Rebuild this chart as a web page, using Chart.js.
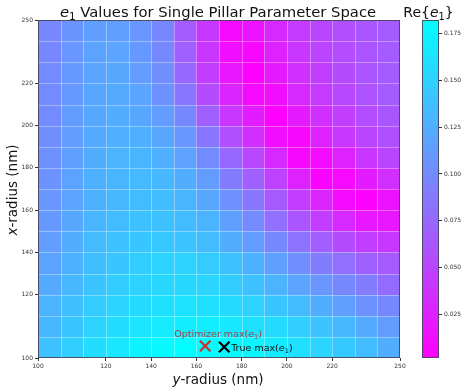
<!DOCTYPE html>
<html>
<head>
<meta charset="utf-8">
<script src="https://cdn.jsdelivr.net/npm/chart.js@4"></script>
<style>
  html, body { margin: 0; padding: 0; background: #fff; }
  #wrap { position: relative; width: 468px; height: 392px; }
  #wrap canvas { position: absolute; left: 0; top: 0; }
</style>
</head>
<body>
<div id="wrap">
  <canvas id="heat" width="468" height="392"></canvas>
  <canvas id="cbar" width="468" height="392"></canvas>
</div>
<script>
// 16 x 16 grid of Re{e1}; first row is the top of the picture (x-radius 250),
// columns go left to right (y-radius 100 -> 250)
const e1Grid = [
  [0.098, 0.107, 0.114, 0.115, 0.108, 0.097, 0.066, 0.041, 0.009, 0.015, 0.030, 0.044, 0.050, 0.057, 0.062, 0.066],
  [0.098, 0.108, 0.117, 0.118, 0.110, 0.098, 0.070, 0.040, 0.012, 0.006, 0.025, 0.040, 0.050, 0.056, 0.062, 0.066],
  [0.100, 0.110, 0.118, 0.120, 0.113, 0.102, 0.075, 0.045, 0.018, 0.003, 0.020, 0.036, 0.046, 0.055, 0.062, 0.067],
  [0.100, 0.110, 0.120, 0.122, 0.118, 0.105, 0.085, 0.055, 0.028, 0.010, 0.012, 0.030, 0.042, 0.052, 0.060, 0.066],
  [0.100, 0.112, 0.120, 0.124, 0.120, 0.112, 0.098, 0.070, 0.040, 0.022, 0.003, 0.020, 0.035, 0.046, 0.056, 0.063],
  [0.102, 0.113, 0.122, 0.126, 0.126, 0.120, 0.108, 0.085, 0.058, 0.035, 0.012, 0.007, 0.025, 0.040, 0.050, 0.058],
  [0.104, 0.115, 0.124, 0.128, 0.130, 0.126, 0.116, 0.100, 0.075, 0.052, 0.030, 0.007, 0.010, 0.025, 0.040, 0.050],
  [0.106, 0.117, 0.126, 0.130, 0.133, 0.132, 0.124, 0.112, 0.090, 0.070, 0.048, 0.025, 0.005, 0.008, 0.022, 0.035],
  [0.108, 0.118, 0.127, 0.132, 0.135, 0.136, 0.130, 0.120, 0.105, 0.085, 0.065, 0.045, 0.028, 0.010, 0.003, 0.015],
  [0.110, 0.120, 0.130, 0.135, 0.138, 0.138, 0.135, 0.128, 0.115, 0.100, 0.080, 0.062, 0.045, 0.030, 0.018, 0.018],
  [0.113, 0.124, 0.133, 0.139, 0.142, 0.143, 0.140, 0.135, 0.125, 0.112, 0.098, 0.083, 0.068, 0.055, 0.045, 0.040],
  [0.117, 0.127, 0.136, 0.142, 0.147, 0.150, 0.150, 0.145, 0.138, 0.127, 0.115, 0.102, 0.090, 0.080, 0.070, 0.065],
  [0.122, 0.132, 0.140, 0.146, 0.150, 0.154, 0.154, 0.152, 0.146, 0.138, 0.128, 0.118, 0.108, 0.098, 0.090, 0.078],
  [0.128, 0.137, 0.145, 0.152, 0.156, 0.160, 0.162, 0.160, 0.156, 0.150, 0.142, 0.134, 0.125, 0.115, 0.105, 0.098],
  [0.132, 0.142, 0.150, 0.158, 0.163, 0.167, 0.169, 0.169, 0.166, 0.161, 0.155, 0.148, 0.140, 0.132, 0.122, 0.112],
  [0.138, 0.148, 0.158, 0.165, 0.172, 0.177, 0.180, 0.180, 0.178, 0.174, 0.168, 0.160, 0.152, 0.144, 0.135, 0.125]
];

// tick labels (nm) and the cell edge they sit on
const tickCells = [0, 3, 5, 7, 9, 11, 13, 16];
const tickLabels = [100, 120, 140, 160, 180, 200, 220, 250];

// colour bar
const vMin = 0.002, vMax = 0.182;
const cbarTicks = [0.025, 0.05, 0.075, 0.1, 0.125, 0.15, 0.175];

// maxima markers, in cell units
const optimizerMax = [{ x: 7.39, y: 0.57 }];
const trueMax = [{ x: 8.23, y: 0.52 }];

const N = e1Grid.length;
const FONT = "'DejaVu Sans', sans-serif";

function coolColor(v) {
  let s = (v - vMin) / (vMax - vMin);
  s = Math.max(0, Math.min(1, s));
  return `rgb(${Math.round(255 * (1 - s))}, ${Math.round(255 * s)}, 255)`;
}

// draw text with italic / subscript pieces
function richText(ctx, parts, x, y, size, color, align) {
  const fontFor = p => `${p.it ? 'italic ' : ''}${p.sub ? size * 0.7 : size}px ${FONT}`;
  let total = 0;
  parts.forEach(p => { ctx.font = fontFor(p); total += ctx.measureText(p.t).width; });
  let cx = align === 'left' ? x : x - total / 2;
  ctx.fillStyle = color;
  ctx.textAlign = 'left';
  ctx.textBaseline = 'alphabetic';
  parts.forEach(p => {
    ctx.font = fontFor(p);
    ctx.fillText(p.t, cx, y + (p.sub ? size * 0.22 : 0));
    cx += ctx.measureText(p.t).width;
  });
}

const heatmapPlugin = {
  id: 'heatmap',
  beforeDatasetsDraw(chart) {
    const { ctx, chartArea: a, scales: { x, y } } = chart;
    ctx.save();
    e1Grid.forEach((row, r) => {
      const yi = N - 1 - r;
      row.forEach((v, c) => {
        const x0 = Math.round(x.getPixelForValue(c)), x1 = Math.round(x.getPixelForValue(c + 1));
        const y0 = Math.round(y.getPixelForValue(yi + 1)), y1 = Math.round(y.getPixelForValue(yi));
        ctx.fillStyle = coolColor(v);
        ctx.fillRect(x0, y0, x1 - x0, y1 - y0);
      });
    });
    // light cell edges
    ctx.strokeStyle = 'rgba(255,255,255,0.35)';
    ctx.lineWidth = 1;
    ctx.beginPath();
    for (let i = 1; i < N; i++) {
      const px = Math.round(x.getPixelForValue(i)) + 0.5;
      const py = Math.round(y.getPixelForValue(i)) + 0.5;
      ctx.moveTo(px, a.top); ctx.lineTo(px, a.bottom);
      ctx.moveTo(a.left, py); ctx.lineTo(a.right, py);
    }
    ctx.stroke();
    ctx.strokeStyle = 'rgba(70,70,90,0.9)';
    ctx.strokeRect(Math.round(a.left) + 0.5, Math.round(a.top) + 0.5, Math.round(a.right - a.left) - 1, Math.round(a.bottom - a.top) - 1);
    ctx.restore();
  },
  afterDraw(chart) {
    const { ctx } = chart;
    ctx.save();
    richText(ctx, [{ t: 'e', it: true }, { t: '1', sub: true }, { t: ' Values for Single Pillar Parameter Space' }], 218, 17, 14.8, '#111');
    richText(ctx, [{ t: 'y', it: true }, { t: '-radius (nm)' }], 218, 384, 13.5, '#111');
    ctx.translate(17, 190);
    ctx.rotate(-Math.PI / 2);
    richText(ctx, [{ t: 'x', it: true }, { t: '-radius (nm)' }], 0, 0, 13.5, '#111');
    ctx.restore();

    // marker labels
    ctx.save();
    const o = chart.getDatasetMeta(0).data[0];
    const t = chart.getDatasetMeta(1).data[0];
    richText(ctx, [{ t: 'Optimizer max(' }, { t: 'e', it: true }, { t: '1', sub: true }, { t: ')' }], o.x + 13, o.y - 9, 9.5, '#a04545');
    richText(ctx, [{ t: 'True max(' }, { t: 'e', it: true }, { t: '1', sub: true }, { t: ')' }], t.x + 7, t.y + 4, 9.5, '#111', 'left');
    ctx.restore();
  }
};

const cellTicks = scale => { scale.ticks = tickCells.map(v => ({ value: v })); };
const cellLabel = v => { const i = tickCells.indexOf(v); return i >= 0 ? String(tickLabels[i]) : ''; };

new Chart(document.getElementById('heat'), {
  type: 'scatter',
  data: {
    datasets: [
      {
        label: 'Optimizer max',
        data: optimizerMax,
        pointStyle: 'crossRot',
        pointRadius: 7.5,
        borderWidth: 2.2,
        borderColor: '#c8302c'
      },
      {
        label: 'True max',
        data: trueMax,
        pointStyle: 'crossRot',
        pointRadius: 7.5,
        borderWidth: 2.2,
        borderColor: '#000'
      }
    ]
  },
  options: {
    responsive: false,
    animation: false,
    layout: { padding: { left: 0, top: 20, right: 68, bottom: 0 } },
    plugins: { legend: { display: false }, tooltip: { enabled: false } },
    scales: {
      x: {
        type: 'linear', min: 0, max: N,
        afterBuildTicks: cellTicks,
        afterFit: s => { s.height = 34; },
        ticks: { callback: cellLabel, font: { family: FONT, size: 6 }, color: '#333', padding: 2, maxRotation: 0, autoSkip: false },
        grid: { drawOnChartArea: false, tickLength: 3, tickColor: '#333' },
        border: { display: false }
      },
      y: {
        type: 'linear', min: 0, max: N,
        afterBuildTicks: cellTicks,
        afterFit: s => { s.width = 38; },
        ticks: { callback: cellLabel, font: { family: FONT, size: 6 }, color: '#333', padding: 2, autoSkip: false },
        grid: { drawOnChartArea: false, tickLength: 3, tickColor: '#333' },
        border: { display: false }
      }
    }
  },
  plugins: [heatmapPlugin]
});

const colorbarPlugin = {
  id: 'colorbar',
  beforeDatasetsDraw(chart) {
    const { ctx, chartArea: a, scales: { y } } = chart;
    const top = y.getPixelForValue(vMax), bottom = y.getPixelForValue(vMin);
    const g = ctx.createLinearGradient(0, bottom, 0, top);
    g.addColorStop(0, coolColor(vMin));
    g.addColorStop(1, coolColor(vMax));
    ctx.save();
    ctx.fillStyle = g;
    ctx.fillRect(a.left, top, a.right - a.left, bottom - top);
    ctx.strokeStyle = 'rgba(70,70,90,0.9)';
    ctx.lineWidth = 1;
    ctx.strokeRect(Math.round(a.left) + 0.5, Math.round(top) + 0.5, Math.round(a.right - a.left) - 1, Math.round(bottom - top) - 1);
    richText(ctx, [{ t: 'Re{' }, { t: 'e', it: true }, { t: '1', sub: true }, { t: '}' }], (a.left + a.right) / 2 - 2, 17, 14, '#111');
    ctx.restore();
  }
};

new Chart(document.getElementById('cbar'), {
  type: 'scatter',
  data: { datasets: [{ data: [] }] },
  options: {
    responsive: false,
    animation: false,
    layout: { padding: { left: 422, top: 20, right: 0, bottom: 34 } },
    plugins: { legend: { display: false }, tooltip: { enabled: false } },
    scales: {
      x: { display: false, min: 0, max: 1 },
      y: {
        position: 'right',
        min: vMin, max: vMax,
        afterBuildTicks: s => { s.ticks = cbarTicks.map(v => ({ value: v })); },
        afterFit: s => { s.width = 29; },
        ticks: { callback: v => v.toFixed(3), font: { family: FONT, size: 6 }, color: '#333', padding: 2 },
        grid: { drawOnChartArea: false, tickLength: 3, tickColor: '#333' },
        border: { display: false }
      }
    }
  },
  plugins: [colorbarPlugin]
});
</script>
</body>
</html>
